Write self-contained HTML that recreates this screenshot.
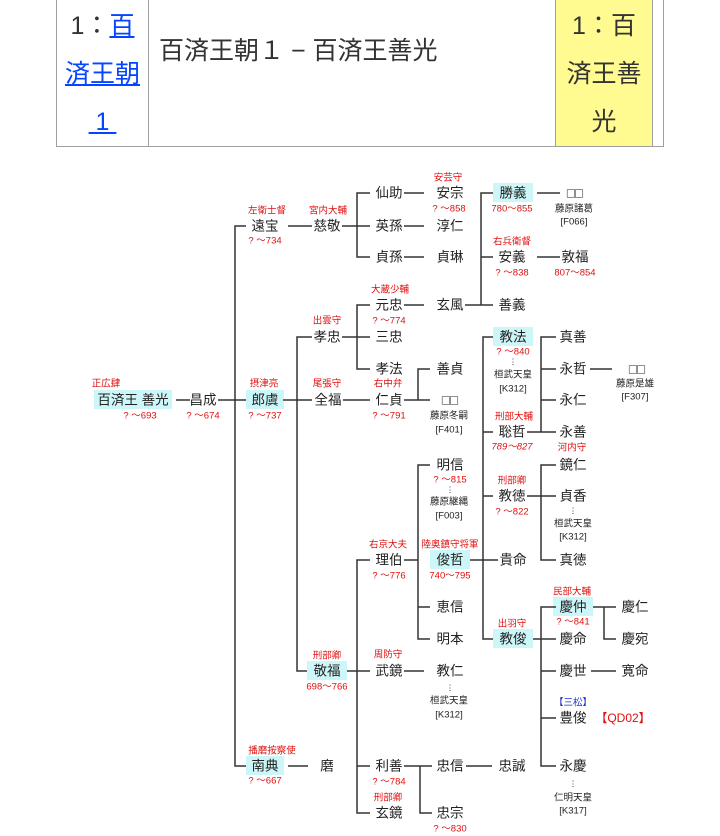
<!DOCTYPE html>
<html><head><meta charset="utf-8">
<style>
html,body{margin:0;padding:0;background:#fff;width:720px;height:836px;overflow:hidden;font-family:"Liberation Sans","Noto Sans CJK JP",sans-serif;}
.hdr{position:absolute;top:-2px;height:149px;border:1px solid #a0a0a0;border-top:none;box-sizing:border-box;}
.c{position:absolute;top:0;bottom:0;box-sizing:border-box;}
.t24{font-size:25px;color:#333;line-height:48px;text-align:center;}
a{color:#0645ff;text-decoration:underline;}
svg text{font-family:"Liberation Sans","Noto Sans CJK JP",sans-serif;}
</style></head><body>
<div class="hdr" style="left:56px;width:608px;">
  <div class="c t24" style="left:0;width:92px;border-right:1px solid #a0a0a0;padding-top:4px;">1：<a>百</a><br><a>済王朝</a><br><a>&nbsp;1&nbsp;</a></div>
  <div class="c" style="left:92px;width:407px;border-right:1px solid #a0a0a0;font-size:25px;color:#333;padding:33px 0 0 10px;white-space:nowrap;">百済王朝１ − 百済王善光</div>
  <div class="c t24" style="left:499px;width:97px;background:#fffb91;border-right:1px solid #a0a0a0;padding-top:4px;">1：百<br>済王善<br>光</div>
</div>
<svg width="720" height="836" style="position:absolute;left:0;top:0" xmlns="http://www.w3.org/2000/svg">
<g fill="#cdf6f8">
<rect x="94" y="390" width="78" height="19"/>
<rect x="246" y="390" width="38" height="19"/>
<rect x="246" y="756" width="38" height="19"/>
<rect x="493" y="183" width="40" height="19"/>
<rect x="493" y="327" width="40" height="19"/>
<rect x="430" y="550" width="40" height="19"/>
<rect x="307" y="661" width="40" height="19"/>
<rect x="493" y="629" width="40" height="19"/>
<rect x="553" y="597" width="40" height="19"/>
</g>
<g stroke="#333" stroke-width="1.5" fill="none">
<path d="M176 400H190M218 400H246"/>
<path d="M246 226H235V766H246"/>
<path d="M288 226H312M342 226H370"/>
<path d="M370 193H357V257H370"/>
<path d="M404 193H424M404 226H424M404 257H424"/>
<path d="M288 400H312M283 400H297"/>
<path d="M312 337H297V671H307"/>
<path d="M342 337H370"/>
<path d="M370 305H357V369H370"/>
<path d="M404 305H424"/>
<path d="M343 400H370"/>
<path d="M404 400H418M430 369H418V400H430"/>
<path d="M465 305H481M493 193H481V305H493M481 257H493"/>
<path d="M537 193H560M537 257H560"/>
<path d="M347 671H370M370 560H357V813H370M357 766H370"/>
<path d="M404 560H418M430 465H418V639H430M418 607H430"/>
<path d="M470 560H498M493 337H483V639H493M483 432H493M483 496H493"/>
<path d="M527 432H541M556 337H541V432H556M541 369H556M541 400H556"/>
<path d="M590 369H612"/>
<path d="M527 496H556M556 465H541V560H556"/>
<path d="M533 639H556M556 607H541V766H556M541 671H556M541 718H556"/>
<path d="M593 607H604M616 607H604V639H616"/>
<path d="M591 671H616"/>
<path d="M404 671H424"/>
<path d="M288 766H308"/>
<path d="M404 766H420M432 766H420V813H432"/>
<path d="M466 766H492"/>
</g>
<g font-size="13.5" fill="#222" text-anchor="middle" dominant-baseline="central">
<text x="133" y="400">百済王 善光</text>
<text x="203" y="400">昌成</text>
<text x="265" y="400">郎虞</text>
<text x="265" y="226">遠宝</text>
<text x="265" y="766">南典</text>
<text x="327" y="766">磨</text>
<text x="327" y="226">慈敬</text>
<text x="389" y="193">仙助</text><text x="389" y="226">英孫</text><text x="389" y="257">貞孫</text>
<text x="450" y="193">安宗</text><text x="450" y="226">淳仁</text><text x="450" y="257">貞琳</text>
<text x="327" y="337">孝忠</text><text x="328" y="400">全福</text>
<text x="389" y="305">元忠</text><text x="389" y="337">三忠</text><text x="389" y="369">孝法</text>
<text x="450" y="305">玄風</text>
<text x="389" y="400">仁貞</text>
<text x="450" y="369">善貞</text><text x="450" y="400">□□</text>
<text x="513" y="193">勝義</text><text x="512" y="257">安義</text><text x="512" y="305">善義</text>
<text x="575" y="193">□□</text><text x="575" y="257">敦福</text>
<text x="513" y="337">教法</text><text x="512" y="432">聡哲</text><text x="512" y="496">教徳</text>
<text x="513" y="560">貴命</text><text x="513" y="639">教俊</text>
<text x="573" y="337">真善</text><text x="573" y="369">永哲</text><text x="573" y="400">永仁</text><text x="573" y="432">永善</text>
<text x="637" y="369">□□</text>
<text x="573" y="465">鏡仁</text><text x="573" y="496">貞香</text><text x="573" y="560">真徳</text>
<text x="573" y="607">慶仲</text><text x="573" y="639">慶命</text><text x="573" y="671">慶世</text>
<text x="573" y="718">豊俊</text><text x="573" y="766">永慶</text>
<text x="635" y="607">慶仁</text><text x="635" y="639">慶宛</text><text x="635" y="671">寛命</text>
<text x="389" y="560">理伯</text>
<text x="450" y="465">明信</text><text x="450" y="560">俊哲</text><text x="450" y="607">恵信</text><text x="450" y="639">明本</text>
<text x="327" y="671">敬福</text><text x="389" y="671">武鏡</text><text x="450" y="671">教仁</text>
<text x="389" y="766">利善</text><text x="389" y="813">玄鏡</text>
<text x="450" y="766">忠信</text><text x="450" y="813">忠宗</text><text x="512" y="766">忠誠</text>
</g>
<g font-size="9.5" fill="#222" text-anchor="middle" dominant-baseline="central">
<text x="574" y="209">藤原諸葛</text><text x="574" y="222">[F066]</text>
<text x="449" y="416">藤原冬嗣</text><text x="449" y="430">[F401]</text>
<text x="513" y="362" font-size="8">⋮</text><text x="513" y="375">桓武天皇</text><text x="513" y="389">[K312]</text>
<text x="635" y="384">藤原是雄</text><text x="635" y="397">[F307]</text>
<text x="573" y="511" font-size="8">⋮</text><text x="573" y="524">桓武天皇</text><text x="573" y="537">[K312]</text>
<text x="450" y="490" font-size="8">⋮</text><text x="449" y="502">藤原継縄</text><text x="449" y="516">[F003]</text>
<text x="450" y="688" font-size="8">⋮</text><text x="449" y="701">桓武天皇</text><text x="449" y="715">[K312]</text>
<text x="573" y="784" font-size="8">⋮</text><text x="573" y="798">仁明天皇</text><text x="573" y="811">[K317]</text>
</g>
<g font-size="9.5" fill="#e01010" text-anchor="middle" dominant-baseline="central">
<text x="106" y="384">正広肆</text><text x="140" y="416">? ～693</text>
<text x="203" y="416">? ～674</text>
<text x="264" y="384">摂津亮</text><text x="265" y="416">? ～737</text>
<text x="267" y="211">左衛士督</text><text x="265" y="241">? ～734</text>
<text x="272" y="751">播磨按察使</text><text x="265" y="781">? ～667</text>
<text x="328" y="211">宮内大輔</text>
<text x="448" y="178">安芸守</text><text x="449" y="209">? ～858</text>
<text x="327" y="321">出雲守</text><text x="327" y="384">尾張守</text>
<text x="390" y="290">大蔵少輔</text><text x="389" y="321">? ～774</text>
<text x="388" y="384">右中弁</text><text x="389" y="416">? ～791</text>
<text x="512" y="209">780～855</text>
<text x="512" y="242">右兵衛督</text><text x="512" y="273">? ～838</text>
<text x="575" y="273">807～854</text>
<text x="513" y="352">? ～840</text>
<text x="514" y="417">刑部大輔</text><text x="512" y="447" font-style="italic">789～827</text>
<text x="572" y="448">河内守</text>
<text x="512" y="481">刑部卿</text><text x="512" y="512">? ～822</text>
<text x="450" y="480">? ～815</text>
<text x="388" y="545">右京大夫</text><text x="389" y="576">? ～776</text>
<text x="450" y="545">陸奥鎮守将軍</text><text x="450" y="576">740～795</text>
<text x="512" y="624">出羽守</text>
<text x="572" y="592">民部大輔</text><text x="573" y="622">? ～841</text>
<text x="327" y="656">刑部卿</text><text x="327" y="687">698～766</text>
<text x="388" y="655">周防守</text>
<text x="389" y="782">? ～784</text><text x="388" y="798">刑部卿</text>
<text x="450" y="829">? ～830</text>
<text x="623" y="718" font-size="12">【QD02】</text>
</g>
<text x="573" y="703" font-size="9.5" fill="#1a2fd0" text-anchor="middle" dominant-baseline="central">【三松】</text>
</svg>
</body></html>
